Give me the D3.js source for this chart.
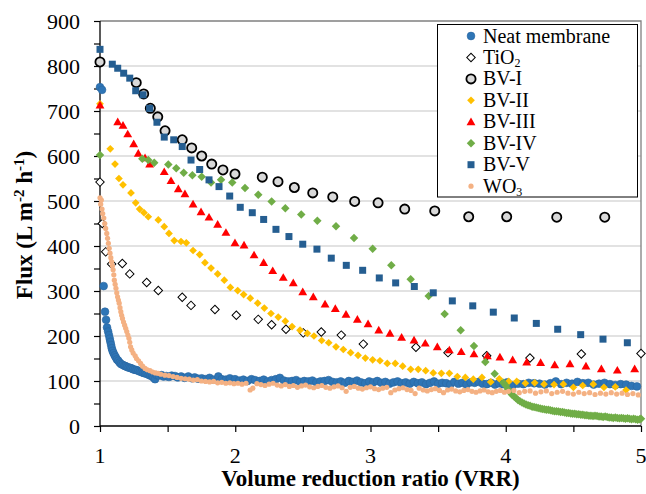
<!DOCTYPE html>
<html><head><meta charset="utf-8">
<script src="https://cdn.jsdelivr.net/npm/d3@7"></script>
<style>
html,body{margin:0;padding:0;background:#fff;}
</style></head>
<body><svg id="chart" width="646" height="494"></svg>
<script>
// ---- data ----
const seriesNames = ["Neat membrane","TiO2","BV-I","BV-II","BV-III","BV-IV","BV-V","WO3"];
const xTicks = [1,2,3,4,5];
const yTicks = [0,100,200,300,400,500,600,700,800,900];

const neatData = [[1.0,753],[1.015,747],[1.027,311],[1.037,254],[1.045,236],[1.052,219],[1.06,210],[1.066,202],[1.072,194],[1.077,187],[1.082,180],[1.087,173],[1.093,167],[1.1,162],[1.108,157],[1.116,153],[1.125,148],[1.135,145],[1.145,141],[1.155,138],[1.167,136],[1.18,134],[1.19,133],[1.2,131],[1.212,130],[1.224,129],[1.234,128],[1.245,126],[1.258,125],[1.27,124],[1.283,123],[1.295,121],[1.308,120],[1.32,118],[1.333,117],[1.345,116],[1.36,114],[1.372,112],[1.385,111],[1.395,108],[1.407,104],[1.42,113],[1.435,112],[1.456,113],[1.47,110],[1.49,111],[1.51,109],[1.53,112],[1.555,111],[1.575,108],[1.6,110],[1.625,107],[1.653,110],[1.68,106],[1.7,108],[1.725,105],[1.752,106],[1.78,104],[1.81,107],[1.84,103],[1.875,110],[1.9,104],[1.93,103],[1.96,106],[1.998,104],[2.03,101],[2.06,103],[2.09,100],[2.12,104],[2.146,102],[2.18,100],[2.21,103],[2.24,99],[2.269,102],[2.3,104],[2.33,107],[2.36,101],[2.39,99],[2.42,100],[2.45,102],[2.48,98],[2.51,100],[2.54,99],[2.57,101],[2.6,97],[2.63,99],[2.66,100],[2.69,102],[2.72,98],[2.75,97],[2.78,99],[2.81,96],[2.84,100],[2.87,98],[2.9,101],[2.93,97],[2.96,95],[2.99,99],[3.02,97],[3.05,100],[3.08,96],[3.11,98],[3.14,94],[3.17,97],[3.2,99],[3.23,95],[3.26,97],[3.29,94],[3.32,98],[3.35,95],[3.38,97],[3.41,93],[3.44,96],[3.47,99],[3.5,94],[3.53,96],[3.56,95],[3.59,92],[3.62,98],[3.65,94],[3.68,96],[3.71,92],[3.74,97],[3.77,96],[3.8,98],[3.83,94],[3.86,93],[3.89,96],[3.92,92],[3.95,95],[3.98,93],[4.01,97],[4.05,90],[4.09,94],[4.13,93],[4.17,96],[4.21,95],[4.25,94],[4.29,92],[4.33,95],[4.37,99],[4.41,93],[4.45,96],[4.49,94],[4.53,98],[4.57,95],[4.61,96],[4.65,92],[4.69,94],[4.73,96],[4.77,93],[4.81,91],[4.85,93],[4.89,92],[4.93,89],[4.97,88]];

const tio2Data = [[1.0,542],[1.017,450],[1.042,387],[1.086,360],[1.165,361],[1.22,338],[1.345,319],[1.431,301],[1.608,286],[1.673,268],[1.85,259],[2.008,246],[2.17,237],[2.269,225],[2.375,215],[2.503,207],[2.636,209],[2.784,202],[2.947,182],[3.336,175],[3.573,163],[3.859,156],[4.179,151],[4.559,160],[5.0,161]];

const bv1Data = [[1.0,809],[1.268,763],[1.323,738],[1.372,706],[1.427,687],[1.481,656],[1.608,636],[1.678,618],[1.752,600],[1.826,582],[1.909,569],[1.998,560],[2.2,553],[2.316,543],[2.437,530],[2.573,518],[2.721,509],[2.883,499],[3.056,496],[3.253,482],[3.475,478],[3.726,465],[4.007,465],[4.377,464],[4.732,464]];

const bv2Data = [[1.0,716],[1.076,616],[1.111,582],[1.14,550],[1.17,536],[1.229,518],[1.264,496],[1.293,482],[1.325,474],[1.357,465],[1.431,458],[1.475,443],[1.51,428],[1.549,412],[1.599,410],[1.638,407],[1.688,390],[1.737,381],[1.776,363],[1.821,351],[1.87,338],[1.919,324],[1.964,308],[2.018,301],[2.062,292],[2.111,284],[2.166,273],[2.215,262],[2.264,250],[2.318,242],[2.37,233],[2.42,221],[2.479,213],[2.533,206],[2.582,200],[2.639,190],[2.691,185],[2.745,176],[2.799,170],[2.853,163],[2.908,157],[2.962,151],[3.016,147],[3.07,145],[3.124,139],[3.183,139],[3.238,133],[3.297,126],[3.353,126],[3.408,123],[3.464,118],[3.524,117],[3.583,117],[3.642,110],[3.701,108],[3.76,104],[3.824,108],[3.889,98],[3.952,105],[4.022,99],[4.081,99],[4.145,95],[4.214,96],[4.283,93],[4.357,92],[4.426,93],[4.5,86],[4.569,90],[4.647,93],[4.726,86],[4.81,87],[4.889,80]];

const bv3Data = [[1.0,713],[1.131,676],[1.17,668],[1.205,649],[1.249,627],[1.283,606],[1.333,596],[1.367,582],[1.475,565],[1.525,545],[1.579,527],[1.628,516],[1.688,493],[1.747,476],[1.806,464],[1.87,448],[1.931,430],[1.998,407],[2.065,402],[2.139,380],[2.21,363],[2.277,345],[2.355,330],[2.429,318],[2.499,298],[2.577,287],[2.664,271],[2.74,261],[2.819,248],[2.903,237],[2.982,227],[3.061,213],[3.144,206],[3.23,197],[3.322,191],[3.405,184],[3.494,176],[3.583,169],[3.671,165],[3.765,160],[3.864,156],[3.957,153],[4.051,147],[4.155,142],[4.258,141],[4.362,136],[4.475,138],[4.593,133],[4.707,127],[4.825,124],[4.953,127]];

const bv4Data = [[1.0,602],[1.313,594],[1.357,591],[1.401,585],[1.505,581],[1.564,573],[1.619,563],[1.683,557],[1.752,554],[1.821,541],[1.895,547],[1.978,541],[2.072,529],[2.17,514],[2.269,499],[2.37,484],[2.488,470],[2.607,456],[2.745,444],[2.878,418],[3.016,394],[3.154,357],[3.297,326],[3.43,289],[3.548,249],[3.667,213],[3.765,178],[3.849,142],[3.918,116],[3.982,96],[4.0,90],[4.015,82],[4.03,76],[4.045,70],[4.06,66],[4.075,62],[4.09,58],[4.105,55],[4.12,52],[4.135,50],[4.15,48],[4.165,46],[4.18,45],[4.195,43],[4.21,42],[4.225,41],[4.24,40],[4.255,39],[4.27,38],[4.285,37],[4.3,36],[4.315,36],[4.33,35],[4.345,34],[4.36,33],[4.375,33],[4.39,32],[4.405,31],[4.42,31],[4.435,30],[4.45,29],[4.465,29],[4.48,28],[4.495,27],[4.51,27],[4.525,26],[4.54,26],[4.555,25],[4.57,25],[4.585,24],[4.6,24],[4.615,23],[4.63,23],[4.645,22],[4.66,23],[4.675,22],[4.69,21],[4.705,21],[4.72,20],[4.735,21],[4.75,20],[4.765,19],[4.78,19],[4.795,18],[4.81,19],[4.825,18],[4.84,17],[4.855,18],[4.87,17],[4.885,16],[4.9,17],[4.915,16],[4.93,15],[4.945,16],[4.96,15],[4.975,14],[4.99,15],[5.0,16]];

const bv5Data = [[1.0,837],[1.091,804],[1.131,795],[1.175,784],[1.22,773],[1.264,745],[1.318,736],[1.367,706],[1.421,675],[1.475,642],[1.545,636],[1.608,621],[1.673,591],[1.737,570],[1.806,547],[1.88,532],[1.959,511],[2.037,486],[2.126,474],[2.21,459],[2.301,437],[2.397,421],[2.499,404],[2.604,393],[2.71,373],[2.821,357],[2.942,346],[3.065,329],[3.186,318],[3.324,310],[3.464,296],[3.605,278],[3.756,267],[3.908,253],[4.063,240],[4.226,228],[4.384,215],[4.554,203],[4.719,193],[4.899,185]];

const wo3Data = [[1.0,507],[1.01,502],[1.005,493],[1.015,482],[1.02,472],[1.028,462],[1.035,450],[1.042,439],[1.05,428],[1.056,417],[1.062,406],[1.068,395],[1.074,384],[1.08,374],[1.086,365],[1.092,356],[1.097,347],[1.102,336],[1.106,324],[1.112,315],[1.118,306],[1.124,296],[1.13,287],[1.136,280],[1.142,273],[1.148,263],[1.154,254],[1.16,246],[1.166,239],[1.174,231],[1.182,224],[1.19,217],[1.198,210],[1.206,202],[1.214,195],[1.22,186],[1.226,176],[1.235,169],[1.245,162],[1.26,156],[1.27,150],[1.285,145],[1.3,139],[1.315,133],[1.333,128],[1.35,125],[1.37,123],[1.39,120],[1.41,118],[1.43,117],[1.45,115],[1.48,113],[1.51,112],[1.54,110],[1.57,108],[1.6,106],[1.63,105],[1.66,104],[1.69,102],[1.72,103],[1.75,100],[1.78,99],[1.81,98],[1.84,99],[1.87,96],[1.9,97],[1.93,95],[1.96,96],[1.99,94],[2.02,95],[2.05,93],[2.08,95],[2.11,80],[2.13,84],[2.16,94],[2.19,92],[2.22,90],[2.25,93],[2.28,95],[2.31,91],[2.34,89],[2.37,92],[2.4,88],[2.43,90],[2.46,86],[2.49,89],[2.52,91],[2.55,87],[2.58,85],[2.61,88],[2.64,90],[2.67,86],[2.7,84],[2.73,87],[2.76,89],[2.79,85],[2.82,77],[2.85,86],[2.88,88],[2.91,84],[2.94,82],[2.97,85],[3.0,87],[3.03,83],[3.06,81],[3.09,84],[3.12,86],[3.15,74],[3.18,80],[3.21,83],[3.24,85],[3.27,81],[3.3,79],[3.33,72],[3.36,84],[3.39,80],[3.42,78],[3.45,81],[3.48,83],[3.51,79],[3.54,74],[3.57,80],[3.6,82],[3.63,78],[3.66,76],[3.69,79],[3.72,81],[3.75,77],[3.78,75],[3.81,78],[3.84,80],[3.87,76],[3.9,74],[3.93,77],[3.96,79],[3.99,75],[4.02,77],[4.06,79],[4.1,74],[4.14,77],[4.18,78],[4.22,73],[4.26,76],[4.3,78],[4.34,72],[4.38,75],[4.42,77],[4.46,73],[4.5,71],[4.54,75],[4.58,72],[4.62,74],[4.66,70],[4.7,73],[4.74,71],[4.78,74],[4.82,71],[4.86,73],[4.9,70],[4.94,72],[4.98,69]];

// ---- layout ----
const FONT = "'Liberation Serif', 'DejaVu Serif', 'Times New Roman', serif";
const svg = d3.select("#chart");
const L = 100, R = 641, T = 21, B = 426;
const x = d3.scaleLinear().domain([1,5]).range([L,R]);
const y = d3.scaleLinear().domain([0,900]).range([B,T]);

// gridlines
svg.append("g").selectAll("line").data(yTicks.filter(v=>v>0 && v<900)).join("line")
  .attr("x1",L).attr("x2",R).attr("y1",d=>y(d)).attr("y2",d=>y(d))
  .attr("stroke","#d9d9d9").attr("stroke-width",1.3);
// top and right frame
svg.append("path").attr("d",`M${L},${y(900)}H${R}V${B}`).attr("fill","none")
  .attr("stroke","#808080").attr("stroke-width",1.3);

// axes
const yAxis = d3.axisLeft(y).tickValues(d3.range(0,901,50)).tickSize(6).tickFormat("");
const gy = svg.append("g").attr("transform",`translate(${L},0)`).call(yAxis);
const xAxis = d3.axisBottom(x).tickValues(d3.range(1,5.01,0.5)).tickSize(6).tickFormat("");
const gx = svg.append("g").attr("transform",`translate(0,${B})`).call(xAxis);
[gx,gy].forEach(g=>{g.select(".domain").attr("stroke","#000").attr("stroke-width",1.3);
  g.selectAll(".tick line").attr("stroke","#000").attr("stroke-width",1.2);});
gy.select(".domain").attr("d",`M0,${B}V${T}`);
gx.select(".domain").attr("d",`M${L},0H${R}`);

// tick labels
svg.append("g").selectAll("text").data(yTicks).join("text")
  .attr("font-family",FONT)
  .attr("x",80).attr("y",d=>y(d)+7.5).attr("text-anchor","end")
  .attr("font-size",22).text(d=>d);
svg.append("g").selectAll("text").data(xTicks).join("text")
  .attr("font-family",FONT)
  .attr("x",d=>x(d)).attr("y",463).attr("text-anchor","middle")
  .attr("font-size",22).text(d=>d);

// axis titles
svg.append("text").attr("font-family",FONT).attr("x",(L+R)/2).attr("y",486).attr("text-anchor","middle")
  .attr("font-size",23).attr("font-weight","bold").text("Volume reduction ratio (VRR)");
const yt = svg.append("text").attr("font-family",FONT).attr("transform","translate(32,225) rotate(-90)")
  .attr("text-anchor","middle").attr("font-size",23).attr("font-weight","bold");
yt.append("tspan").text("Flux (L m");
yt.append("tspan").attr("dy",-8).attr("font-size",15).text("-2");
yt.append("tspan").attr("dy",8).text(" h");
yt.append("tspan").attr("dy",-8).attr("font-size",15).text("-1");
yt.append("tspan").attr("dy",8).text(")");

// marker styles
const sq = d3.symbol().type(d3.symbolSquare);
const tri = d3.symbol().type(d3.symbolTriangle);
const styles = {
  "Neat membrane": {draw:(g)=>g.append("circle").attr("r",3.9).attr("fill","#2e75b6").attr("stroke","#2a66a0").attr("stroke-width",0.6)},
  "TiO2": {draw:(g)=>g.append("path").attr("d",sq.size(36)()).attr("transform","rotate(45)").attr("fill","#fff").attr("stroke","#000").attr("stroke-width",1)},
  "BV-I": {draw:(g)=>g.append("circle").attr("r",4.6).attr("fill","#d9d9d9").attr("stroke","#000").attr("stroke-width",1.8)},
  "BV-II": {draw:(g)=>g.append("path").attr("d",sq.size(30)()).attr("transform","rotate(45)").attr("fill","#ffc000")},
  "BV-III": {draw:(g)=>g.append("path").attr("d",tri.size(34)()).attr("transform","translate(0,0.8)").attr("fill","#ff0000")},
  "BV-IV": {draw:(g)=>g.append("path").attr("d",sq.size(36)()).attr("transform","rotate(45)").attr("fill","#70ad47")},
  "BV-V": {draw:(g)=>g.append("path").attr("d",sq.size(49)()).attr("fill","#255e91")},
  "WO3": {draw:(g)=>g.append("circle").attr("r",2.6).attr("fill","#f4b183")}
};
const seriesData = {"Neat membrane":neatData,"TiO2":tio2Data,"BV-I":bv1Data,"BV-II":bv2Data,
  "BV-III":bv3Data,"BV-IV":bv4Data,"BV-V":bv5Data,"WO3":wo3Data};

const plot = svg.append("g");
seriesNames.forEach(name=>{
  const g = plot.append("g");
  g.selectAll("g").data(seriesData[name]).join("g")
    .attr("transform",d=>`translate(${x(d[0])},${y(d[1])})`)
    .each(function(){ styles[name].draw(d3.select(this)); });
});

// legend
const lg = svg.append("g");
lg.append("rect").attr("x",437.5).attr("y",24.5).attr("width",200).attr("height",172.5)
  .attr("fill","#fff").attr("stroke","#000").attr("stroke-width",1);
seriesNames.forEach((name,i)=>{
  const cy = 36 + i*21.45;
  const g = lg.append("g").attr("transform",`translate(471,${cy})`);
  styles[name].draw(g);
  const t = lg.append("text").attr("font-family",FONT).attr("x",483).attr("y",cy+6.5).attr("font-size",20);
  if(name==="TiO2"){ t.append("tspan").text("TiO"); t.append("tspan").attr("dy",3).attr("font-size",12).text("2"); }
  else if(name==="WO3"){ t.append("tspan").text("WO"); t.append("tspan").attr("dy",3).attr("font-size",12).text("3"); }
  else t.text(name);
});
</script></body></html>
